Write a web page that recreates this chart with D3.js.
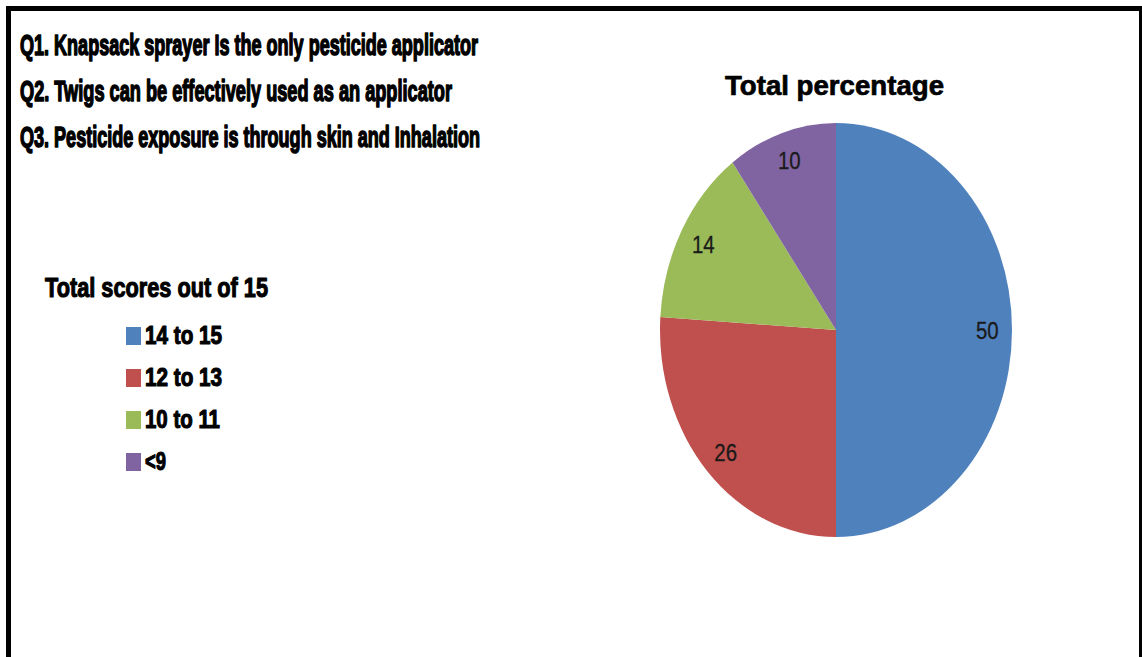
<!DOCTYPE html>
<html>
<head>
<meta charset="utf-8">
<script src="https://cdn.jsdelivr.net/npm/d3@7"></script>
<style>
  html, body { margin: 0; padding: 0; background: #fff; }
  svg { display: block; }
</style>
</head>
<body>
<svg id="chart" width="1142" height="657"></svg>
<script>
// Survey questions listed above the chart
const questions = [
  "Q1. Knapsack sprayer Is the only pesticide applicator",
  "Q2. Twigs can be effectively used as an applicator",
  "Q3. Pesticide exposure is through skin and Inhalation"
];

// Score bands and their share of respondents (%)
const legendTitle = "Total scores out of 15";
const categories = ["14 to 15", "12 to 13", "10 to 11", "<9"];
const percentages = [50, 26, 14, 10];
const chartTitle = "Total percentage";

const palette = ["#4F81BD", "#C0504D", "#9BBB59", "#8064A2"];

const W = 1142, H = 657;
const svg = d3.select("#chart");
const boldFont = "'Liberation Sans Narrow', 'Liberation Sans', Arial, sans-serif";

// frame
svg.append("rect").attr("x", 6).attr("y", 6).attr("width", W - 6).attr("height", 5).attr("fill", "#000");
svg.append("rect").attr("x", 6).attr("y", 6).attr("width", 5).attr("height", H - 6).attr("fill", "#000");
svg.append("rect").attr("x", 1139).attr("y", 6).attr("width", 3).attr("height", H - 6).attr("fill", "#000");

// question lines (extra stroke gives the heavy, blocky weight)
const qWidths = [458, 432, 460];
svg.append("g").selectAll("text")
  .data(questions)
  .join("text")
  .attr("x", 20)
  .attr("y", (d, i) => 55 + i * 46)
  .attr("font-family", boldFont)
  .attr("font-weight", "bold")
  .attr("font-size", 30)
  .attr("fill", "#000")
  .attr("stroke", "#000")
  .attr("stroke-width", 1.6)
  .attr("stroke-linejoin", "round")
  .attr("textLength", (d, i) => qWidths[i])
  .attr("lengthAdjust", "spacingAndGlyphs")
  .text(d => d);

const color = d3.scaleOrdinal().domain(categories).range(palette);

// legend
svg.append("text")
  .attr("x", 45).attr("y", 297)
  .attr("font-family", boldFont).attr("font-weight", "bold")
  .attr("font-size", 27).attr("fill", "#000")
  .attr("stroke", "#000").attr("stroke-width", 1.1).attr("stroke-linejoin", "round")
  .attr("textLength", 223).attr("lengthAdjust", "spacingAndGlyphs")
  .text(legendTitle);

const legendY = d3.scalePoint().domain(categories).range([336, 462]);
const legendTextW = { "14 to 15": 77, "12 to 13": 77, "10 to 11": 75, "<9": 21 };
const items = svg.append("g").selectAll("g")
  .data(categories)
  .join("g")
  .attr("transform", d => `translate(0,${legendY(d)})`);
items.append("rect")
  .attr("x", 126).attr("y", -9)
  .attr("width", 15).attr("height", 18)
  .attr("fill", d => color(d));
items.append("text")
  .attr("x", 145).attr("y", 8)
  .attr("font-family", boldFont).attr("font-weight", "bold")
  .attr("font-size", 25).attr("fill", "#000")
  .attr("stroke", "#000").attr("stroke-width", 1.1).attr("stroke-linejoin", "round")
  .attr("textLength", d => legendTextW[d]).attr("lengthAdjust", "spacingAndGlyphs")
  .text(d => d);

// pie title
svg.append("text")
  .attr("x", 725).attr("y", 95)
  .attr("font-family", "'Liberation Sans', Arial, sans-serif").attr("font-weight", "bold")
  .attr("font-size", 28).attr("fill", "#000")
  .attr("stroke", "#000").attr("stroke-width", 0.7).attr("stroke-linejoin", "round")
  .attr("textLength", 219).attr("lengthAdjust", "spacingAndGlyphs")
  .text(chartTitle);

// pie (drawn as a circle, squeezed horizontally)
const cx = 836, cy = 330, ry = 207, rx = 176;
const sx = rx / ry;
const pie = d3.pie().sort(null).value(d => d.value);
const arcs = pie(categories.map((c, i) => ({ cat: c, value: percentages[i] })));
const arc = d3.arc().innerRadius(0).outerRadius(ry);
const labelArc = d3.arc().innerRadius(ry * 0.86).outerRadius(ry * 0.86);

const pieG = svg.append("g").attr("transform", `translate(${cx},${cy}) scale(${sx},1)`);
pieG.selectAll("path")
  .data(arcs)
  .join("path")
  .attr("d", arc)
  .attr("fill", d => color(d.data.cat));

svg.append("g").attr("transform", `translate(${cx},${cy})`)
  .selectAll("text")
  .data(arcs)
  .join("text")
  .attr("transform", d => {
    const [x, y] = labelArc.centroid(d);
    return `translate(${x * sx},${y}) scale(0.85,1)`;
  })
  .attr("text-anchor", "middle")
  .attr("dy", "0.36em")
  .attr("font-family", "'Liberation Sans', Arial, sans-serif")
  .attr("font-size", 24)
  .attr("fill", "#1a1a1a")
  .attr("stroke", "#1a1a1a").attr("stroke-width", 0.3)
  .text(d => d.data.value);
</script>
</body>
</html>
